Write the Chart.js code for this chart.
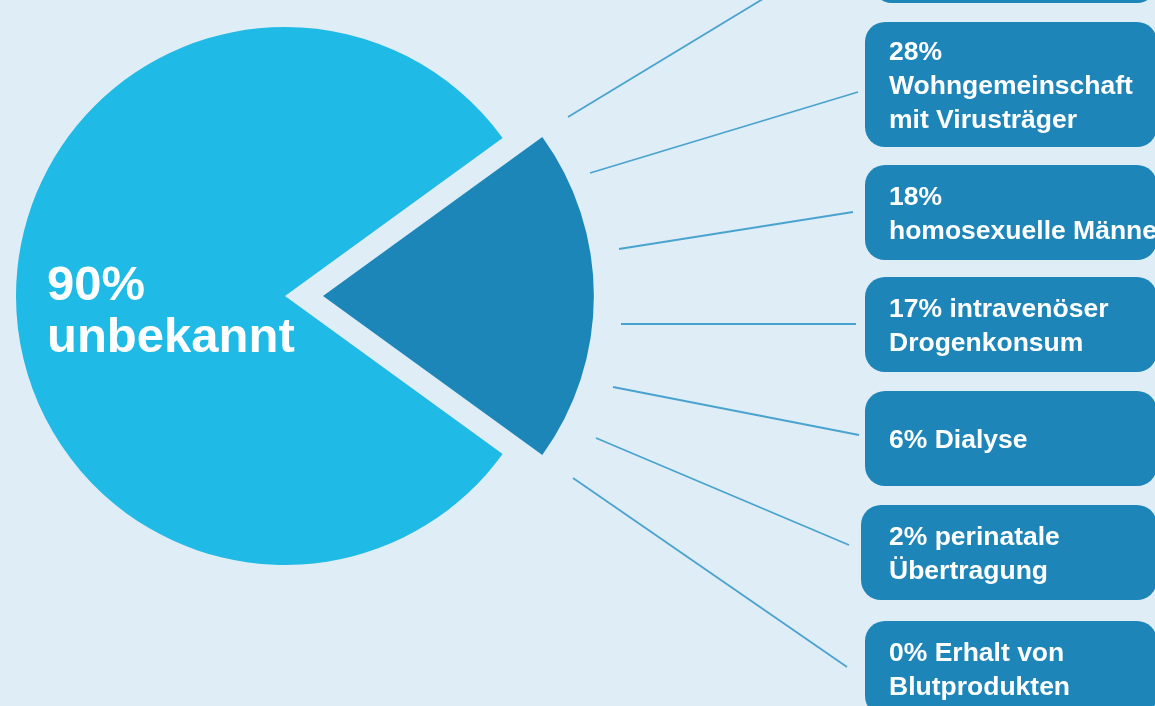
<!DOCTYPE html>
<html>
<head>
<meta charset="utf-8">
<script src="https://cdn.jsdelivr.net/npm/chart.js@4"></script>
<style>
  html, body { margin: 0; padding: 0; }
  body {
    width: 1155px; height: 706px; overflow: hidden; position: relative;
    background: #dfedf6;
    font-family: "Liberation Sans", Arial, Helvetica, sans-serif;
  }
  #pie { position: absolute; left: 0; top: 0; }
  #mainLabel {
    position: absolute; left: 47px; top: 257px;
    color: #fff; font-weight: bold; font-size: 49px; line-height: 52px;
    white-space: pre;
  }
  .box {
    position: absolute; background: #1d85b8; border-radius: 20px;
    color: #fff; font-weight: bold; font-size: 26.5px; line-height: 34px;
    display: flex; align-items: center; box-sizing: border-box;
    white-space: pre; overflow: visible;
  }
</style>
</head>
<body>
<canvas id="pie" width="1155" height="706"></canvas>
<div id="mainLabel"></div>
<div id="boxes"></div>
<script>
// Pie as drawn: big light slice, small dark slice pulled out to the right
const sliceNames = ['unbekannt', 'bekannt'];
const sliceValues = [80, 20];
const mainShare = 90;

// Known transmission routes (breakdown of the dark slice)
const riskShares = [null, 28, 18, 17, 6, 2, 0];
const riskNames = [
  '',
  '\nWohngemeinschaft\nmit Virusträger',
  '\nhomosexuelle Männer',
  ' intravenöser\nDrogenkonsum',
  ' Dialyse',
  ' perinatale\nÜbertragung',
  ' Erhalt von\nBlutprodukten'
];

// layout of boxes and connector lines (pixels)
const textLeft = 889;
const boxLayout = [
  { left: 872, top: -95, height: 98 },
  { left: 865, top: 22, height: 125 },
  { left: 865, top: 165, height: 95 },
  { left: 865, top: 277, height: 95 },
  { left: 865, top: 391, height: 95 },
  { left: 861, top: 505, height: 95 },
  { left: 865, top: 621, height: 95 }
];
const connectors = [
  [568, 117, 776, -9],
  [590, 173, 858, 92],
  [619, 249, 853, 212],
  [621, 324, 856, 324],
  [613, 387, 859, 435],
  [596, 438, 849, 545],
  [573, 478, 847, 667]
];

document.getElementById('mainLabel').textContent = mainShare + '%\n' + sliceNames[0];

const boxesEl = document.getElementById('boxes');
riskShares.forEach((share, i) => {
  const b = document.createElement('div');
  b.className = 'box';
  const l = boxLayout[i];
  b.style.left = l.left + 'px';
  b.style.top = l.top + 'px';
  b.style.height = l.height + 'px';
  b.style.width = (1157 - l.left) + 'px';
  b.style.paddingLeft = (textLeft - l.left) + 'px';
  b.textContent = share === null ? '' : share + '%' + riskNames[i];
  boxesEl.appendChild(b);
});

const connectorPlugin = {
  id: 'connectors',
  afterDraw(chart) {
    const ctx = chart.ctx;
    ctx.save();
    ctx.strokeStyle = '#4aa3cf';
    ctx.lineWidth = 1.8;
    connectors.forEach(c => {
      ctx.beginPath();
      ctx.moveTo(c[0], c[1]);
      ctx.lineTo(c[2], c[3]);
      ctx.stroke();
    });
    ctx.restore();
  }
};

new Chart(document.getElementById('pie').getContext('2d'), {
  type: 'pie',
  data: {
    labels: sliceNames,
    datasets: [{
      data: sliceValues,
      backgroundColor: ['#1fbae5', '#1d86b8'],
      borderWidth: 0,
      offset: [0, 152],
      clip: false
    }]
  },
  options: {
    responsive: false,
    animation: false,
    rotation: 126,
    radius: 269,
    layout: { padding: { left: 0, top: 0, right: 585, bottom: 114 } },
    plugins: { legend: { display: false }, tooltip: { enabled: false } }
  },
  plugins: [connectorPlugin]
});
</script>
</body>
</html>
